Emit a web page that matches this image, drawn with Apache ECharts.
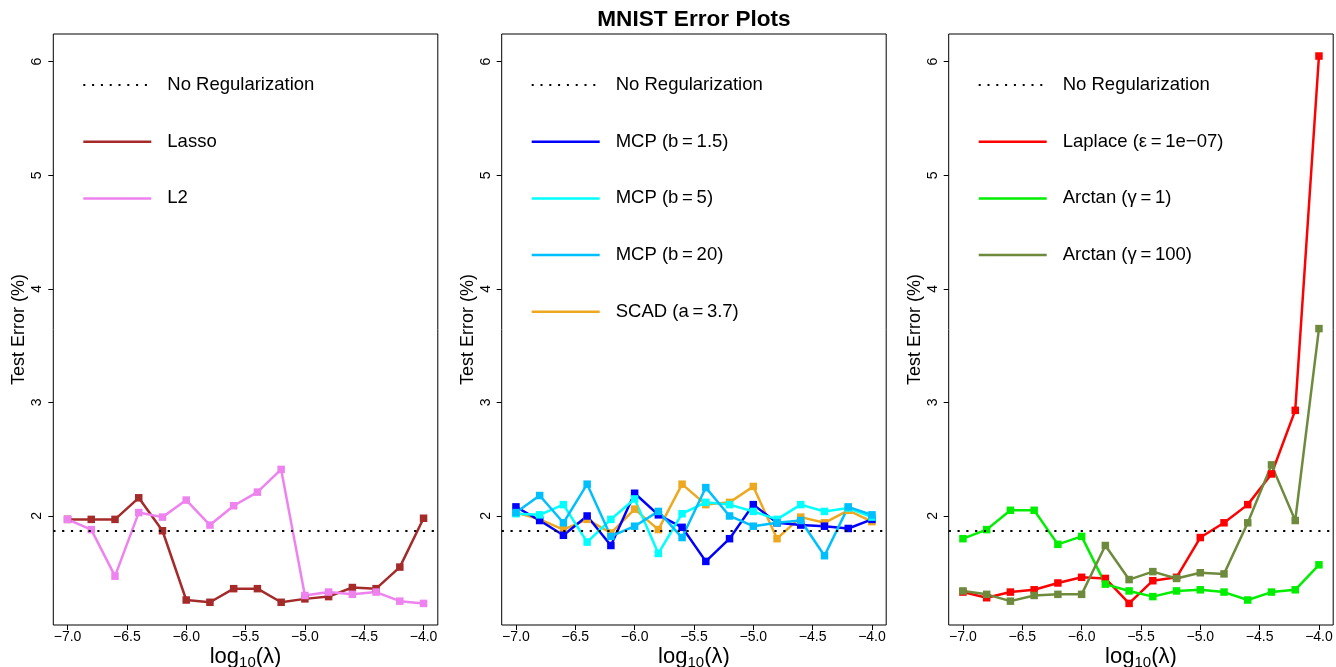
<!DOCTYPE html>
<html>
<head>
<meta charset="utf-8">
<script src="https://cdn.jsdelivr.net/npm/echarts@6/dist/echarts.min.js"></script>
<style>
html,body{margin:0;padding:0;background:#fff;}
#chart{width:1336px;height:667px;}
</style>
</head>
<body>
<div id="chart"></div>
<script>
// ---- data ----
const lambdas = [-7.0, -6.8, -6.6, -6.4, -6.2, -6.0, -5.8, -5.6, -5.4, -5.2, -5.0, -4.8, -4.6, -4.4, -4.2, -4.0];
const noRegError = 1.872;

const lasso = [1.97, 1.97, 1.97, 2.16, 1.87, 1.26, 1.24, 1.36, 1.36, 1.24, 1.27, 1.29, 1.37, 1.36, 1.55, 1.98];
const l2    = [1.97, 1.88, 1.47, 2.03, 1.99, 2.14, 1.92, 2.09, 2.21, 2.41, 1.30, 1.33, 1.31, 1.33, 1.25, 1.23];

const mcp15 = [2.08, 1.96, 1.83, 2.00, 1.74, 2.20, 2.01, 1.90, 1.60, 1.80, 2.10, 1.94, 1.92, 1.91, 1.89, 1.97];
const mcp5  = [2.02, 2.01, 2.10, 1.77, 1.97, 2.15, 1.67, 2.02, 2.12, 2.10, 2.04, 1.97, 2.10, 2.04, 2.07, 1.99];
const mcp20 = [2.03, 2.18, 1.94, 2.28, 1.82, 1.91, 2.04, 1.81, 2.25, 2.00, 1.91, 1.94, 1.96, 1.65, 2.08, 2.01];
const scad  = [2.03, 1.97, 1.88, 1.97, 1.85, 2.06, 1.88, 2.28, 2.10, 2.12, 2.26, 1.80, 1.99, 1.94, 2.05, 1.95];

const laplace   = [1.33, 1.28, 1.33, 1.35, 1.41, 1.46, 1.45, 1.23, 1.43, 1.46, 1.81, 1.94, 2.10, 2.37, 2.93, 6.05];
const arctan1   = [1.80, 1.88, 2.05, 2.05, 1.75, 1.82, 1.40, 1.34, 1.29, 1.34, 1.35, 1.33, 1.26, 1.33, 1.35, 1.57];
const arctan100 = [1.34, 1.31, 1.25, 1.30, 1.31, 1.31, 1.74, 1.44, 1.51, 1.45, 1.50, 1.49, 1.94, 2.45, 1.96, 3.65];

const xTicks = [-7.0, -6.5, -6.0, -5.5, -5.0, -4.5, -4.0];
const yTicks = [2, 3, 4, 5, 6];

const chartTitle = 'MNIST Error Plots';
const yTitle = 'Test Error (%)';

// ---- build ----
const FONT = 'Liberation Sans, Arial, Helvetica, sans-serif';
const gridLefts = [53.3, 501.7, 948.7];
const gridW = 384.5, gridTop = 34, gridH = 591;

function pairs(vals){ return lambdas.map((x,i)=>[x, vals[i]]); }

const panels = [
  [
    {name:'Lasso', data:lasso, color:'#A52A2A'},
    {name:'L2', data:l2, color:'#EE82EE'}
  ],
  [
    {name:'SCAD (a\u2009=\u20093.7)', data:scad, color:'#EEA820'},
    {name:'MCP (b\u2009=\u20091.5)', data:mcp15, color:'#0000FF'},
    {name:'MCP (b\u2009=\u20095)', data:mcp5, color:'#00FFFF'},
    {name:'MCP (b\u2009=\u200920)', data:mcp20, color:'#00BFFF'}
  ],
  [
    {name:'Laplace (\u03B5\u2009=\u20091e\u221207)', data:laplace, color:'#FF0000'},
    {name:'Arctan (\u03B3\u2009=\u20091)', data:arctan1, color:'#00EE00'},
    {name:'Arctan (\u03B3\u2009=\u2009100)', data:arctan100, color:'#6E8B3D'}
  ]
];
const legendOrder = [
  ['No Regularization','Lasso','L2'],
  ['No Regularization','MCP (b\u2009=\u20091.5)','MCP (b\u2009=\u20095)','MCP (b\u2009=\u200920)','SCAD (a\u2009=\u20093.7)'],
  ['No Regularization','Laplace (\u03B5\u2009=\u20091e\u221207)','Arctan (\u03B3\u2009=\u20091)','Arctan (\u03B3\u2009=\u2009100)']
];

// dotted legend icon: 8 dots plus an invisible point to keep full width
let dotPath = 'path://';
for (let i = 0; i < 8; i++) { const x = (i*8.8).toFixed(2); dotPath += `M${x},0h2v2h-2z`; }
dotPath += 'M67.99,0h0.01v0.01h-0.01z';

const grids = [], xAxes = [], yAxes = [], series = [], legends = [];
gridLefts.forEach((gl, p) => {
  grids.push({left: gl, top: gridTop, width: gridW, height: gridH, show: true,
    containLabel: false, outerBoundsMode: 'none',
    borderColor: '#000', borderWidth: 1, backgroundColor: 'transparent'});
  xAxes.push({
    type: 'value', gridIndex: p, min: -7.12, max: -3.88,
    axisLine: {show: false},
    splitLine: {show: false},
    axisTick: {show: true, length: 5, inside: false, customValues: xTicks, lineStyle: {color: '#000', width: 1}},
    axisLabel: {show: true, customValues: xTicks, margin: 5, color: '#000', fontSize: 14, fontFamily: FONT,
      formatter: v => (v < 0 ? '\u2212' : '') + Math.abs(v).toFixed(1)},
    name: '{a|log}{b|10}{a|(\u03BB)}', nameLocation: 'middle', nameGap: 18, nameMoveOverlap: false,
    nameTextStyle: {color: '#000', fontFamily: FONT,
      rich: {a: {fontSize: 22, fontFamily: FONT, color: '#000'},
             b: {fontSize: 15, fontFamily: FONT, color: '#000', padding: [12, 0, 0, 0]}}}
  });
  yAxes.push({
    type: 'value', gridIndex: p, min: 1.04, max: 6.244,
    axisLine: {show: false},
    splitLine: {show: false},
    axisTick: {show: true, length: 5, inside: false, customValues: yTicks, lineStyle: {color: '#000', width: 1}},
    axisLabel: {show: true, customValues: yTicks, rotate: 90, margin: 9, color: '#000', fontSize: 14, fontFamily: FONT},
    name: yTitle, nameLocation: 'middle', nameGap: 25, nameRotate: 90, nameMoveOverlap: false,
    nameTextStyle: {color: '#000', fontSize: 18, fontFamily: FONT}
  });
  // no-regularization reference line
  series.push({
    name: 'No Regularization', type: 'line', xAxisIndex: p, yAxisIndex: p, data: [],
    color: '#000', symbol: 'none',
    markLine: {silent: true, symbol: 'none', label: {show: false},
      lineStyle: {color: '#000', width: 2.2, type: [2.2, 6.6], cap: 'butt'},
      data: [{yAxis: noRegError}]}
  });
  panels[p].forEach(s => {
    series.push({
      name: s.name, type: 'line', xAxisIndex: p, yAxisIndex: p, data: pairs(s.data),
      color: s.color, symbol: 'rect', symbolSize: 7.5,
      lineStyle: {width: 2.5, color: s.color}, itemStyle: {color: s.color},
      animation: false
    });
  });
  legends.push({
    orient: 'vertical', left: gl + 30, top: 75, padding: 0,
    itemWidth: 68, itemHeight: 2.5, itemGap: 36.7, selectedMode: false,
    textStyle: {color: '#000', fontSize: 18.5, lineHeight: 20, fontFamily: FONT, padding: [0, 0, 0, 11]},
    data: legendOrder[p].map(n => n === 'No Regularization' ? {name: n, icon: dotPath} : {name: n, icon: 'rect'})
  });
});

const chart = echarts.init(document.getElementById('chart'), null, {renderer: 'canvas'});
chart.setOption({
  animation: false,
  backgroundColor: '#fff',
  title: {text: chartTitle, left: gridLefts[1] + gridW/2, textAlign: 'center', top: 8, padding: 0,
    textStyle: {fontSize: 22.6, fontWeight: 'bold', color: '#000', fontFamily: FONT}},
  grid: grids, xAxis: xAxes, yAxis: yAxes, legend: legends, series: series
});
</script>
</body>
</html>
